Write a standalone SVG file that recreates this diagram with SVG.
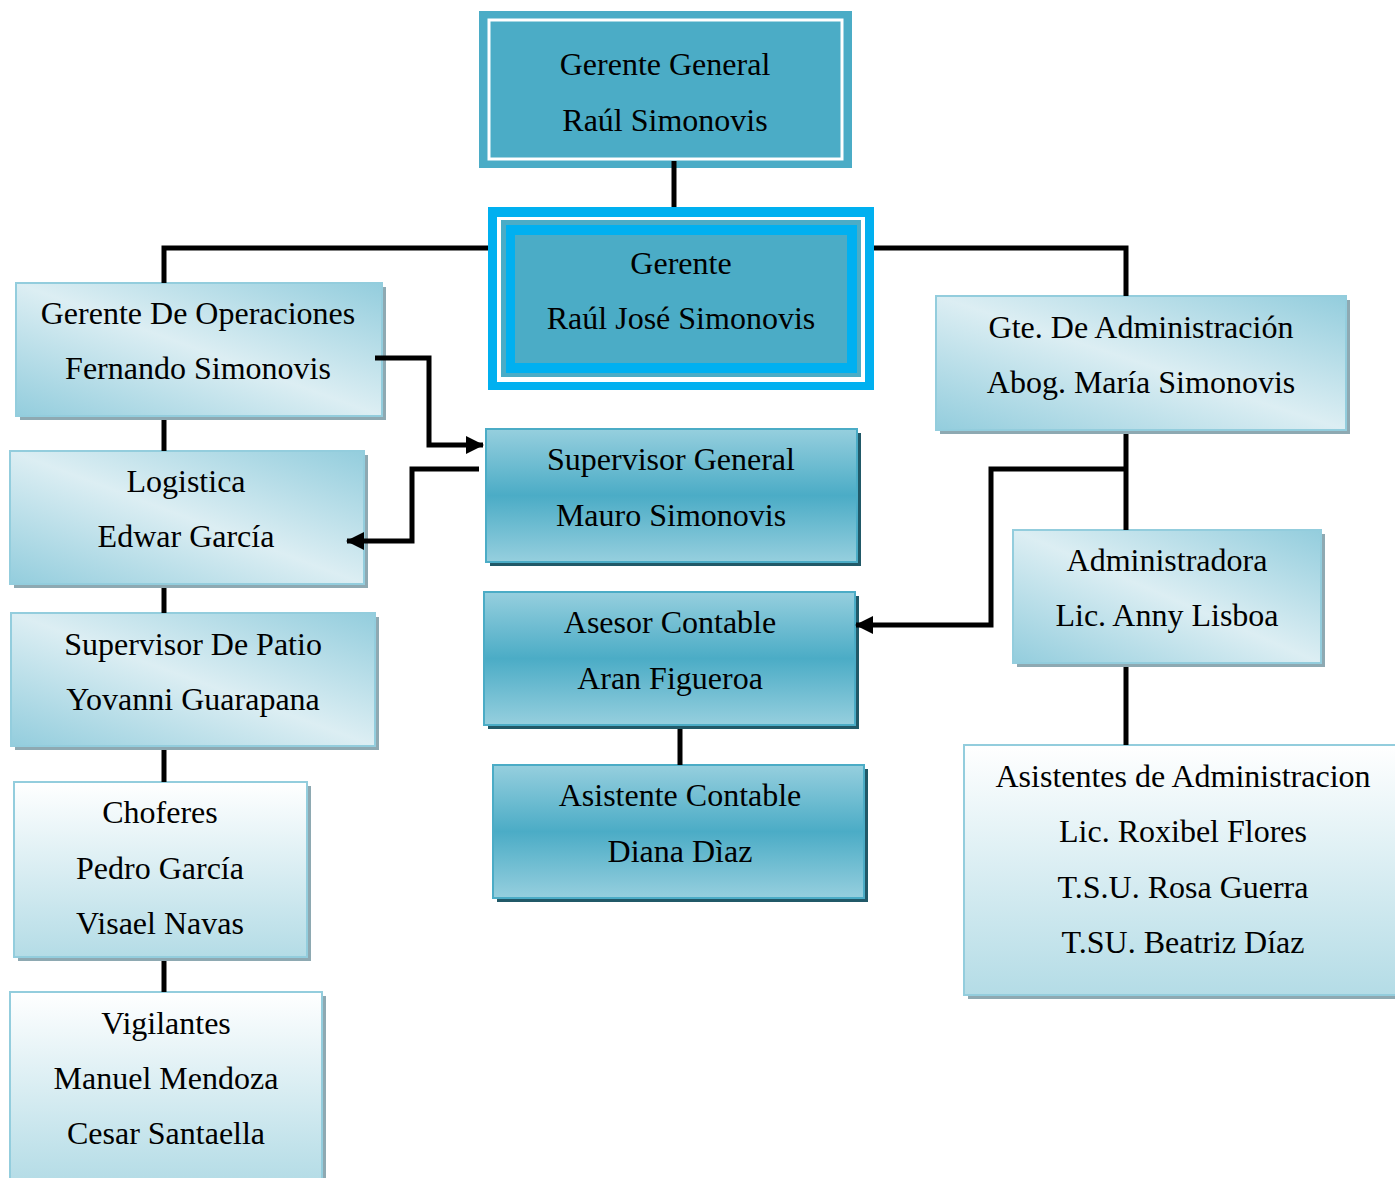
<svg xmlns="http://www.w3.org/2000/svg" width="1395" height="1178" viewBox="0 0 1395 1178">
<defs>
<linearGradient id="diag" x1="1" y1="0" x2="0" y2="1">
<stop offset="0" stop-color="#93CDDD"/><stop offset="0.5" stop-color="#DCEEF3"/><stop offset="1" stop-color="#93CDDD"/>
</linearGradient>
<linearGradient id="vwhite" x1="0" y1="0" x2="0" y2="1">
<stop offset="0" stop-color="#FFFFFF"/><stop offset="1" stop-color="#B4DCE6"/>
</linearGradient>
<linearGradient id="vteal" x1="0" y1="0" x2="0" y2="1">
<stop offset="0" stop-color="#96CFDE"/><stop offset="0.5" stop-color="#4BACC6"/><stop offset="1" stop-color="#96CFDE"/>
</linearGradient>
<marker id="ah" viewBox="0 0 18 18" refX="17" refY="9" markerWidth="18" markerHeight="18" orient="auto" markerUnits="userSpaceOnUse">
<path d="M0,0 L18,9 L0,18 z" fill="#000"/>
</marker>
</defs>
<style>
text{font-family:"Liberation Serif","Times New Roman",serif;font-size:32px;fill:#000;text-anchor:middle}
.light{fill:url(#diag);stroke:#93CDDD;stroke-width:2}
.white{fill:url(#vwhite);stroke:#93CDDD;stroke-width:2}
.teal{fill:url(#vteal);stroke:#4BACC6;stroke-width:2}
.sh{fill:#8EA9B2}
.shd{fill:#215968}
.ln{fill:none;stroke:#000;stroke-width:5}
</style>
<rect width="1395" height="1178" fill="#fff"/>
<g id="gerente-general">
<rect x="479" y="11" width="373" height="157" fill="#4BACC6"/>
<rect x="489" y="20" width="353" height="139" fill="#4BACC6" stroke="#fff" stroke-width="3"/>
<text x="665" y="75">Gerente General</text>
<text x="665" y="131">Raúl Simonovis</text>
</g>
<g id="gerente">
<rect x="488" y="207" width="386" height="183" fill="#00B0F0"/>
<rect x="497" y="217" width="368" height="165" fill="#fff"/>
<rect x="501" y="220" width="360" height="157" fill="#4BACC6"/>
<rect x="506" y="225" width="351" height="148" fill="#00B0F0"/>
<rect x="515" y="235" width="332" height="128" fill="#4BACC6"/>
<text x="681" y="274">Gerente</text>
<text x="681" y="329">Raúl José Simonovis</text>
</g>
<g id="gerente-operaciones">
<rect class="sh" x="20" y="287" width="366" height="133"/>
<rect class="light" x="16" y="283" width="366" height="133"/>
<text x="198" y="324">Gerente De Operaciones</text>
<text x="198" y="379">Fernando Simonovis</text>
</g>
<g id="logistica">
<rect class="sh" x="14" y="455" width="354" height="133"/>
<rect class="light" x="10" y="451" width="354" height="133"/>
<text x="186" y="492">Logistica</text>
<text x="186" y="547">Edwar García</text>
</g>
<g id="supervisor-patio">
<rect class="sh" x="15" y="617" width="364" height="133"/>
<rect class="light" x="11" y="613" width="364" height="133"/>
<text x="193" y="655">Supervisor De Patio</text>
<text x="193" y="710">Yovanni Guarapana</text>
</g>
<g id="choferes">
<rect class="sh" x="18" y="786" width="293" height="175"/>
<rect class="white" x="14" y="782" width="293" height="175"/>
<text x="160" y="823">Choferes</text>
<text x="160" y="879">Pedro García</text>
<text x="160" y="934">Visael Navas</text>
</g>
<g id="vigilantes">
<rect class="sh" x="14" y="996" width="312" height="190"/>
<rect class="white" x="10" y="992" width="312" height="190"/>
<text x="166" y="1034">Vigilantes</text>
<text x="166" y="1089">Manuel Mendoza</text>
<text x="166" y="1144">Cesar Santaella</text>
</g>
<g id="supervisor-general">
<rect class="shd" x="490" y="433" width="371" height="133"/>
<rect class="teal" x="486" y="429" width="371" height="133"/>
<text x="671" y="470">Supervisor General</text>
<text x="671" y="526">Mauro Simonovis</text>
</g>
<g id="asesor-contable">
<rect class="shd" x="488" y="596" width="371" height="133"/>
<rect class="teal" x="484" y="592" width="371" height="133"/>
<text x="670" y="633">Asesor Contable</text>
<text x="670" y="689">Aran Figueroa</text>
</g>
<g id="asistente-contable">
<rect class="shd" x="497" y="769" width="371" height="133"/>
<rect class="teal" x="493" y="765" width="371" height="133"/>
<text x="680" y="806">Asistente Contable</text>
<text x="680" y="862">Diana Dìaz</text>
</g>
<g id="gte-administracion">
<rect class="sh" x="940" y="300" width="410" height="134"/>
<rect class="light" x="936" y="296" width="410" height="134"/>
<text x="1141" y="338">Gte. De Administración</text>
<text x="1141" y="393">Abog. María Simonovis</text>
</g>
<g id="administradora">
<rect class="sh" x="1017" y="534" width="308" height="133"/>
<rect class="light" x="1013" y="530" width="308" height="133"/>
<text x="1167" y="571">Administradora</text>
<text x="1167" y="626">Lic. Anny Lisboa</text>
</g>
<g id="asistentes-administracion">
<rect class="sh" x="968" y="749" width="440" height="250"/>
<rect class="white" x="964" y="745" width="440" height="250"/>
<text x="1183" y="787">Asistentes de Administracion</text>
<text x="1183" y="842">Lic. Roxibel Flores</text>
<text x="1183" y="898">T.S.U. Rosa Guerra</text>
<text x="1183" y="953">T.SU. Beatriz Díaz</text>
</g>
<g id="connectors">
<line class="ln" x1="674" y1="161" x2="674" y2="207"/>
<polyline class="ln" points="164,283 164,248 488,248"/>
<polyline class="ln" points="874,248 1126,248 1126,296"/>
<line class="ln" x1="164" y1="420" x2="164" y2="451"/>
<line class="ln" x1="164" y1="588" x2="164" y2="613"/>
<line class="ln" x1="164" y1="750" x2="164" y2="782"/>
<line class="ln" x1="164" y1="961" x2="164" y2="992"/>
<line class="ln" x1="1126" y1="434" x2="1126" y2="530"/>
<line class="ln" x1="1126" y1="667" x2="1126" y2="745"/>
<line class="ln" x1="680" y1="729" x2="680" y2="765"/>
<polyline class="ln" points="375,358 429,358 429,445 483,445" marker-end="url(#ah)"/>
<polyline class="ln" points="479,469 412,469 412,541 347,541" marker-end="url(#ah)"/>
<polyline class="ln" points="1128,469 991,469 991,625 856,625" marker-end="url(#ah)"/>
</g>
</svg>
